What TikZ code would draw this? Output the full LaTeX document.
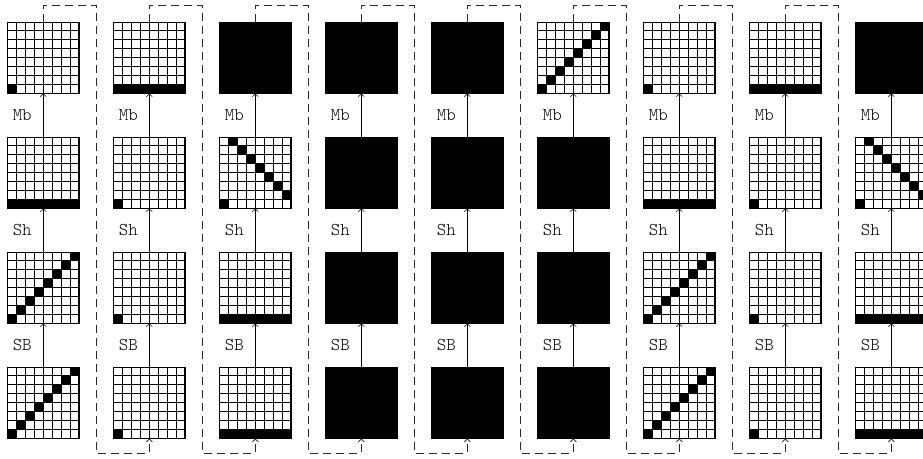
\documentclass[tikz,border=0pt]{standalone}
\usepackage{fontspec}
\setmonofont{Latin Modern Mono Light}
\usepackage{tikz}
\usetikzlibrary{arrows.meta}
\definecolor{cellblack}{RGB}{0,0,0}
\definecolor{wiregray}{RGB}{40,40,40}

\tikzset{
  board/.style={minimum size=53.7pt, inner sep=0pt, outer sep=0pt},
  gridline/.style={line width=0.8pt, cellblack},
  stage/.style={line width=0.4pt, -{Straight Barb[length=2pt,width=4.5pt]}},
  handover/.style={wiregray, line width=0.6pt, dash pattern=on 6pt off 3.75pt,
    -{Straight Barb[length=2pt,width=4.5pt]}},
  stagelabel/.style={font=\ttfamily\fontsize{13.5}{15}\selectfont, inner sep=0pt, left=8.5pt}
}

% 8x8 board: 1 corner, 2 bottom row, 3 diagonal, 4 shifted anti-diagonal, 5 full
\newcommand{\boardcells}[2]{%
  \begin{scope}[shift={(#1.south west)}, scale=8.95]
    \ifcase#2\or
      \fill[cellblack] (0,0) rectangle (1,1);
    \or
      \fill[cellblack] (0,0) rectangle (8,1);
    \or
      \foreach \k in {0,...,7} \fill[cellblack] (\k,\k) rectangle ++(1,1);
    \or
      \fill[cellblack] (0,0) rectangle (1,1);
      \foreach \k in {1,...,7} \fill[cellblack] (\k,8-\k) rectangle ++(1,1);
    \or
      \fill[cellblack] (0,0) rectangle (8,8);
    \fi
    \draw[gridline, step=1] (0,0) grid (8,8);
  \end{scope}}

\begin{document}
\begin{tikzpicture}[x=0.75pt, y=0.75pt]
  \useasboundingbox (0,0) rectangle (923,458);

  % Columns of boards, bottom (input) to top
  \foreach \c/\pin/\psb/\psh/\pmb in {1/3/3/2/1, 2/1/1/1/2, 3/2/2/4/5, 4/5/5/5/5,
      5/5/5/5/5, 6/5/5/5/3, 7/3/3/2/1, 8/1/1/1/2, 9/2/2/4/5} {
    \node[board] (in\c) at ({43.3+106*(\c-1)}, 55.2) {};
    \node[board] (sb\c) at ({43.3+106*(\c-1)}, 170.2) {};
    \node[board] (sh\c) at ({43.3+106*(\c-1)}, 285.2) {};
    \node[board] (mb\c) at ({43.3+106*(\c-1)}, 400.2) {};
    \boardcells{in\c}{\pin}
    \boardcells{sb\c}{\psb}
    \boardcells{sh\c}{\psh}
    \boardcells{mb\c}{\pmb}

    \draw[stage] (in\c.north) -- node[stagelabel] {SB} (sb\c.south);
    \draw[stage] (sb\c.north) -- node[stagelabel] {Sh} (sh\c.south);
    \draw[stage] (sh\c.north) -- node[stagelabel] {Mb} (mb\c.south);
  }

  % Hand over from each column to the next
  \foreach \c in {1,...,8} {
    \pgfmathtruncatemacro\n{\c+1}
    \coordinate (top\c) at ({96.3+106*(\c-1)}, 453);
    \coordinate (bot\c) at ({96.3+106*(\c-1)}, 5);
    \draw[handover] (mb\c.north) |- (top\c) -- (bot\c) -| (in\n.south);
  }

\end{tikzpicture}
\end{document}
